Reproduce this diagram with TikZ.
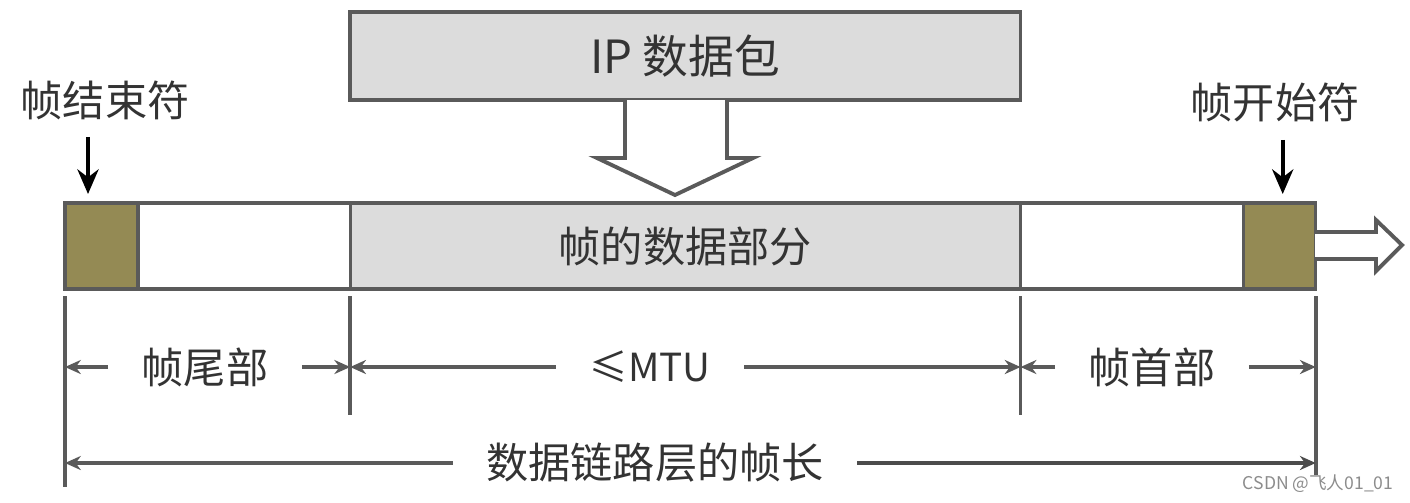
\documentclass[tikz,border=0pt]{standalone}
\usepackage{fontspec}
\newfontfamily\cjk{Noto Sans CJK SC}
\usetikzlibrary{arrows.meta,positioning}
\definecolor{flagbrown}{HTML}{948A54}
\definecolor{datagray}{HTML}{DCDCDC}
\definecolor{edgegray}{HTML}{5A5A5A}

\begin{document}
\begin{tikzpicture}[
  x=0.01cm, y=-0.01cm,
  >={Stealth[length=4.5pt,width=4pt]}, line width=0.9pt,
  every node/.style={font=\cjk\fontsize{12}{14}\selectfont, text=black!80},
  field/.style={draw=edgegray, minimum height=0.86cm, inner sep=0pt, outer sep=0pt},
  dim/.style={inner xsep=0.32cm, inner ysep=0pt},
  ext/.style={draw=edgegray, line width=1pt},
  hollow/.style={draw=edgegray, fill=white, line width=1.1pt, line join=miter},
  marker/.style={-{Stealth[length=7pt,width=6pt]}, line width=1.2pt}
]
  \useasboundingbox (0,0) rectangle (1410,502);

  % frame fields
  \node[field, fill=flagbrown, minimum width=0.73cm, anchor=north west] (eof) at (65,203) {};
  \node[field, minimum width=2.12cm, right=0pt of eof] (trailer) {};
  \node[field, fill=datagray, minimum width=6.70cm, right=0pt of trailer] (data) {帧的数据部分};
  \node[field, minimum width=2.23cm, right=0pt of data] (header) {};
  \node[field, fill=flagbrown, minimum width=0.72cm, right=0pt of header] (sof) {};

  % ip packet
  \node[field, fill=datagray, minimum width=6.70cm, minimum height=0.88cm, anchor=north west,
        font=\cjk\fontsize{13}{15}\selectfont] (ip) at (350,12) {IP 数据包};

  % hollow arrows
  \draw[hollow] (625,100) -- (625,158) -- (597,158) -- (675,195) -- (753,158) -- (727,158) -- (727,100);
  \draw[hollow] (1315,232) -- (1376,232) -- (1376,220) -- (1402,245) -- (1376,271) -- (1376,259) -- (1315,259);

  % flags
  \node (eoflabel) at (105,100) {帧结束符};
  \node (soflabel) at (1275,102) {帧开始符};
  \draw[marker] ([xshift=0.23cm, yshift=0.66cm]eof.north west) -- ([xshift=0.23cm, yshift=0.09cm]eof.north west);
  \draw[marker] ([xshift=0.39cm, yshift=0.63cm]sof.north west) -- ([xshift=0.39cm, yshift=0.09cm]sof.north west);

  % extension lines
  \draw[ext] ([yshift=-0.07cm]eof.south west) -- ++(0,191);
  \draw[ext] ([yshift=-0.07cm]data.south west) -- ++(0,119);
  \draw[ext] ([yshift=-0.07cm]data.south east) -- ++(0,119);
  \draw[ext] ([yshift=-0.07cm]sof.south east) -- ++(0,179);

  % dimensions
  \node[dim] (trl) at (205,367) {帧尾部};
  \node[dim, minimum width=1.7cm, font=\cjk\fontsize{11}{13}\selectfont] (mtu) at (650,367) {≤MTU};
  \node[dim] (hdr) at (1152,367) {帧首部};
  \node[dim] (len) at (655,463) {数据链路层的帧长};
  \draw[->, draw=edgegray] (trl) -- (trl -| eof.west);
  \draw[->, draw=edgegray] (trl) -- (trl -| data.west);
  \draw[->, draw=edgegray] (mtu) -- (mtu -| data.west);
  \draw[->, draw=edgegray] (mtu) -- (mtu -| data.east);
  \draw[->, draw=edgegray] (hdr) -- (hdr -| data.east);
  \draw[->, draw=edgegray] (hdr) -- (hdr -| sof.east);
  \draw[->, draw=edgegray] (len) -- (len -| eof.west);
  \draw[->, draw=black!70, line width=1.4pt] (len) -- (len -| sof.east);

  \node[font=\cjk\fontsize{5}{6}\selectfont, text=black!45, anchor=east, inner sep=0pt] (mark) at (1395,484) {CSDN @飞人01\_01};
\end{tikzpicture}
\end{document}
